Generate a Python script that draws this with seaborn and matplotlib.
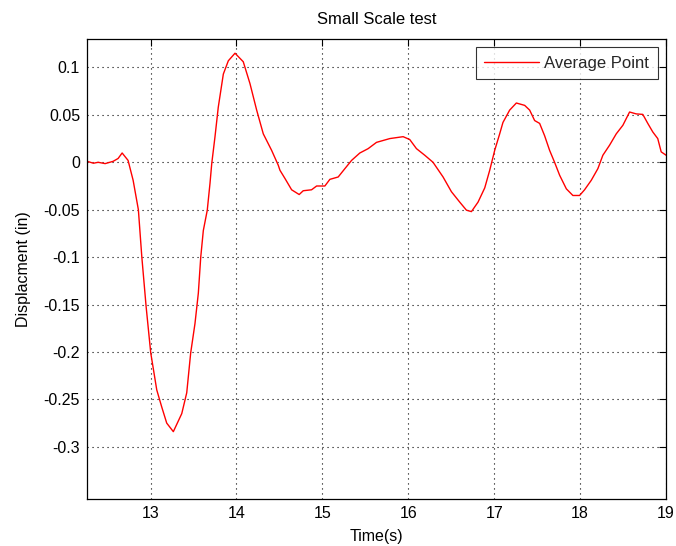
import pandas as pd
import seaborn as sns
import matplotlib.pyplot as plt

# values (time in s, displacement in in)
time_s = [12.262, 12.335, 12.390, 12.471, 12.564, 12.622, 12.669, 12.738, 12.797, 12.858,
          12.898, 12.948, 13.002, 13.072, 13.130, 13.188, 13.265, 13.363, 13.421, 13.467,
          13.517, 13.556, 13.584, 13.614, 13.660, 13.692, 13.712, 13.750, 13.788, 13.847,
          13.905, 13.983, 14.079, 14.157, 14.235, 14.312, 14.409, 14.486, 14.506, 14.564,
          14.642, 14.730, 14.777, 14.874, 14.933, 15.029, 15.087, 15.184, 15.262, 15.340,
          15.436, 15.533, 15.630, 15.785, 15.940, 16.017, 16.095, 16.192, 16.288, 16.405,
          16.502, 16.599, 16.677, 16.735, 16.812, 16.890, 16.948, 17.006, 17.064, 17.102,
          17.180, 17.258, 17.355, 17.413, 17.471, 17.529, 17.587, 17.645, 17.703, 17.762,
          17.840, 17.916, 17.994, 18.052, 18.130, 18.207, 18.265, 18.343, 18.421, 18.498,
          18.576, 18.654, 18.730, 18.788, 18.846, 18.904, 18.944, 19.002]
displacement = [0.001, -0.001, 0.0, -0.0014, 0.001, 0.004, 0.0098, 0.002, -0.019, -0.050,
                -0.0997, -0.152, -0.201, -0.240, -0.258, -0.275, -0.284, -0.265, -0.243, -0.201,
                -0.170, -0.138, -0.100, -0.072, -0.0505, -0.022, -0.0014, 0.027, 0.058, 0.093,
                0.107, 0.115, 0.106, 0.083, 0.055, 0.030, 0.0126, -0.003, -0.0084, -0.017,
                -0.029, -0.034, -0.030, -0.029, -0.025, -0.025, -0.018, -0.0155, -0.0067, 0.002,
                0.0098, 0.0144, 0.021, 0.025, 0.027, 0.024, 0.0144, 0.0074, 0.0, -0.0155,
                -0.031, -0.042, -0.0505, -0.052, -0.042, -0.027, -0.0084, 0.0126, 0.030, 0.042,
                0.055, 0.0625, 0.060, 0.055, 0.044, 0.041, 0.028, 0.0126, 0.0, -0.0137,
                -0.028, -0.035, -0.035, -0.029, -0.019, -0.0067, 0.0074, 0.018, 0.030, 0.039,
                0.053, 0.051, 0.0505, 0.041, 0.032, 0.025, 0.011, 0.0074]

xticks = [13, 14, 15, 16, 17, 18, 19]
yticks = [0.1, 0.05, 0, -0.05, -0.1, -0.15, -0.2, -0.25, -0.3]
ytick_labels = ["0.1", "0.05", "0", "-0.05", "-0.1", "-0.15", "-0.2", "-0.25", "-0.3"]

df = pd.DataFrame({"Time(s)": time_s, "Displacment (in)": displacement})

sns.set_theme(style="white")
plt.rcParams["font.family"] = ["Liberation Sans", "DejaVu Sans"]

fig = plt.figure(figsize=(6.76, 5.46), dpi=100)
ax = fig.add_axes([0.1287, 0.0861, 0.8565, 0.8425])

sns.lineplot(data=df, x="Time(s)", y="Displacment (in)", color="red", linewidth=1.0,
             sort=False, estimator=None, label="Average Point", ax=ax)

ax.set_xlim(12.26, 19.0)
ax.set_ylim(-0.355, 0.13)
ax.set_xticks(xticks)
ax.set_xticklabels([str(t) for t in xticks])
ax.set_yticks(yticks)
ax.set_yticklabels(ytick_labels)

# matlab style: dotted grid, inward ticks on all sides
ax.grid(True, color="black", linestyle=(0, (1, 3.5)), linewidth=0.8)
ax.tick_params(direction="in", length=5, width=0.8, top=True, right=True,
               labelsize=11.5, colors="black", pad=5)
for sp in ax.spines.values():
    sp.set_color("black")
    sp.set_linewidth(0.9)

ax.set_xlabel("Time(s)", fontsize=11.5, color="black", labelpad=6)
ax.set_ylabel("Displacment (in)", fontsize=11.5, color="black", labelpad=9)
ax.set_title("Small Scale test", fontsize=12, color="black", pad=11)

leg = ax.legend(loc="upper right", fontsize=12, frameon=True, fancybox=False,
                edgecolor="black", handlelength=3.3, handletextpad=0.3,
                borderpad=0.5, borderaxespad=0.5)
leg.get_frame().set_linewidth(0.8)

fig.savefig("out.png", dpi=100, facecolor="white")
